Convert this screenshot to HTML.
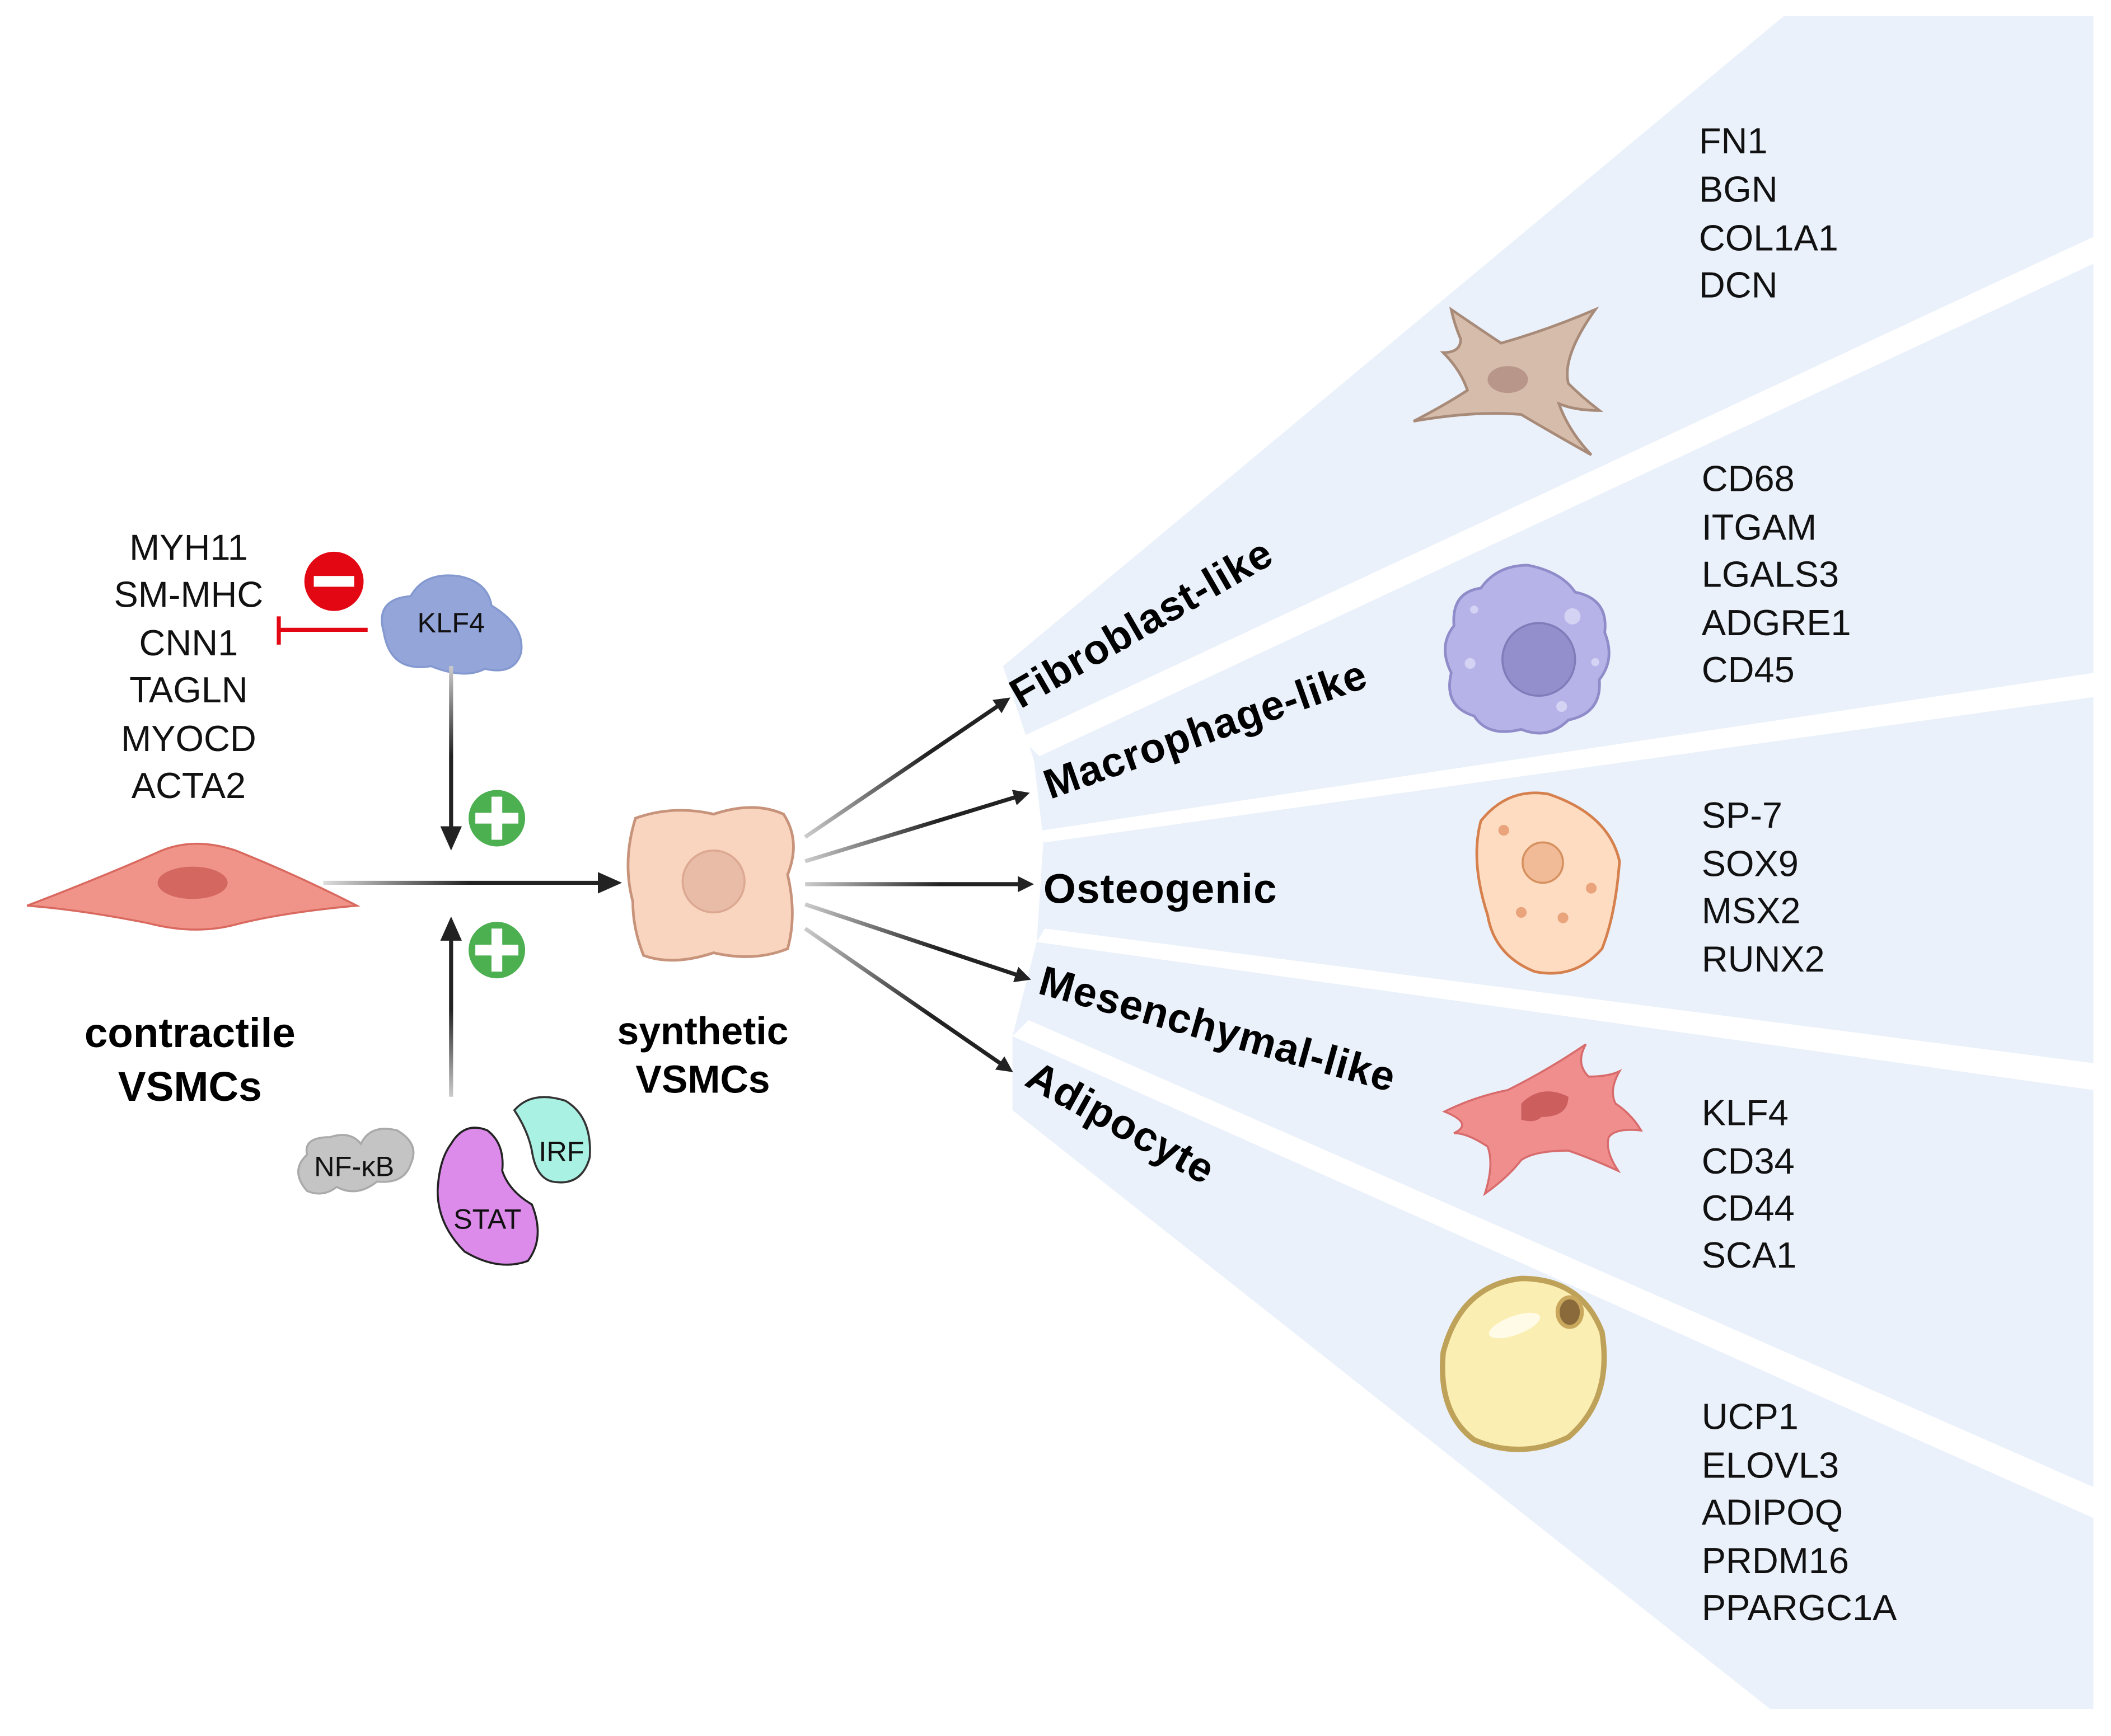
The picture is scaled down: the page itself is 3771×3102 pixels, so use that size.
<!DOCTYPE html>
<html><head><meta charset="utf-8"><style>
html,body{margin:0;padding:0;background:#fff}
svg{display:block}
text{font-family:"Liberation Sans",sans-serif}
.g{font-size:27px;fill:#111}
.b{font-weight:bold;fill:#000}
</style></head><body>
<svg width="3771" height="3102" viewBox="0 0 1568 1290" xmlns="http://www.w3.org/2000/svg">
<defs>
<linearGradient id="g1" gradientUnits="userSpaceOnUse" x1="598" y1="622" x2="748" y2="520"><stop offset="0" stop-color="#ccc"/><stop offset="0.6" stop-color="#222"/></linearGradient>
<linearGradient id="g2" gradientUnits="userSpaceOnUse" x1="598" y1="640" x2="762" y2="590"><stop offset="0" stop-color="#ccc"/><stop offset="0.6" stop-color="#222"/></linearGradient>
<linearGradient id="g3" gradientUnits="userSpaceOnUse" x1="598" y1="657" x2="765" y2="657"><stop offset="0" stop-color="#ccc"/><stop offset="0.6" stop-color="#222"/></linearGradient>
<linearGradient id="g4" gradientUnits="userSpaceOnUse" x1="598" y1="672" x2="763" y2="727"><stop offset="0" stop-color="#ccc"/><stop offset="0.6" stop-color="#222"/></linearGradient>
<linearGradient id="g5" gradientUnits="userSpaceOnUse" x1="598" y1="690" x2="750" y2="795"><stop offset="0" stop-color="#ccc"/><stop offset="0.6" stop-color="#222"/></linearGradient>
<linearGradient id="gh" gradientUnits="userSpaceOnUse" x1="240" y1="656" x2="458" y2="656"><stop offset="0" stop-color="#ddd"/><stop offset="0.5" stop-color="#222"/></linearGradient>
<linearGradient id="gd" gradientUnits="userSpaceOnUse" x1="335" y1="495" x2="335" y2="628"><stop offset="0" stop-color="#ccc"/><stop offset="0.5" stop-color="#222"/></linearGradient>
<linearGradient id="gu" gradientUnits="userSpaceOnUse" x1="335" y1="815" x2="335" y2="685"><stop offset="0" stop-color="#ccc"/><stop offset="0.5" stop-color="#222"/></linearGradient>
<marker id="ah" markerWidth="12" markerHeight="12" refX="9" refY="6" orient="auto" markerUnits="userSpaceOnUse" viewBox="0 0 12 12"><path d="M0,0 L12,6 L0,12z" fill="#222"/></marker>
<marker id="ahb" markerWidth="18" markerHeight="18" refX="14" refY="9" orient="auto" markerUnits="userSpaceOnUse" viewBox="0 0 18 18"><path d="M0,1 L18,9 L0,17z" fill="#222"/></marker>
</defs>
<!-- fan -->
<polygon points="745,495 1325,12 1555,12 1555,1270 1315,1270 752,825 752,770 770,700 775,625 768,565" fill="#eaf1fb"/>
<polygon points="758,548 1555,176 1555,196 772,562" fill="#fff"/>
<polygon points="768,618 1555,500 1555,518 776,626" fill="#fff"/>
<polygon points="776,690 1555,790 1555,810 770,700" fill="#fff"/>
<polygon points="764,758 1555,1105 1555,1128 752,770" fill="#fff"/>
<!-- branch arrows -->
<g stroke-width="3" fill="none" marker-end="url(#ah)">
<line x1="598" y1="622" x2="748" y2="520" stroke="url(#g1)"/>
<line x1="598" y1="640" x2="762" y2="590" stroke="url(#g2)"/>
<line x1="598" y1="657" x2="765" y2="657" stroke="url(#g3)"/>
<line x1="598" y1="672" x2="763" y2="727" stroke="url(#g4)"/>
<line x1="598" y1="690" x2="750" y2="795" stroke="url(#g5)"/>
</g>
<!-- rotated labels -->
<text class="b" font-size="31" letter-spacing="0.5" transform="translate(758,527) rotate(-30)">Fibroblast-like</text>
<text class="b" font-size="31" letter-spacing="0.5" transform="translate(780,594) rotate(-19.5)">Macrophage-like</text>
<text class="b" font-size="31" letter-spacing="0.5" x="775" y="671">Osteogenic</text>
<text class="b" font-size="31" letter-spacing="0.5" transform="translate(770,738) rotate(15.6)">Mesenchymal-like</text>
<text class="b" font-size="31" letter-spacing="0.5" transform="translate(760,806) rotate(29)">Adipocyte</text>
<!-- gene lists -->
<g class="g">
<text x="1262" y="114">FN1</text><text x="1262" y="150">BGN</text><text x="1262" y="186">COL1A1</text><text x="1262" y="221">DCN</text>
<text x="1264" y="365">CD68</text><text x="1264" y="401">ITGAM</text><text x="1264" y="436">LGALS3</text><text x="1264" y="472">ADGRE1</text><text x="1264" y="507">CD45</text>
<text x="1264" y="615">SP-7</text><text x="1264" y="651">SOX9</text><text x="1264" y="686">MSX2</text><text x="1264" y="722">RUNX2</text>
<text x="1264" y="836">KLF4</text><text x="1264" y="872">CD34</text><text x="1264" y="907">CD44</text><text x="1264" y="942">SCA1</text>
<text x="1264" y="1062">UCP1</text><text x="1264" y="1098">ELOVL3</text><text x="1264" y="1133">ADIPOQ</text><text x="1264" y="1169">PRDM16</text><text x="1264" y="1204">PPARGC1A</text>
</g>
<g class="g" text-anchor="middle">
<text x="140" y="416">MYH11</text><text x="140" y="451">SM-MHC</text><text x="140" y="487">CNN1</text><text x="140" y="522">TAGLN</text><text x="140" y="558">MYOCD</text><text x="140" y="593">ACTA2</text>
</g>
<!-- right cells -->
<path d="M1050,313 Q1075,300 1090,290 Q1085,275 1072,262 Q1085,262 1085,252 Q1080,240 1078,230 Q1100,245 1115,255 Q1150,245 1185,230 Q1160,265 1165,285 Q1175,295 1188,305 Q1170,305 1158,300 Q1165,320 1182,338 Q1150,320 1130,308 Q1095,305 1050,313z" fill="#d6bcab" stroke="#a88a78" stroke-width="2"/>
<ellipse cx="1120" cy="282" rx="15" ry="10" fill="#b8978a"/>
<path d="M1135,420 Q1160,425 1170,440 Q1195,445 1192,470 Q1200,490 1188,505 Q1190,530 1165,535 Q1150,550 1130,542 Q1105,548 1095,532 Q1072,525 1078,500 Q1068,480 1080,465 Q1078,440 1100,437 Q1112,420 1135,420z" fill="#b6b3e8" stroke="#8f8cc9" stroke-width="2"/>
<circle cx="1143" cy="490" r="27" fill="#928fcc" stroke="#7f7cba" stroke-width="1.5"/>
<g fill="#d4d3f3"><circle cx="1092" cy="493" r="4"/><circle cx="1168" cy="458" r="6"/><circle cx="1160" cy="525" r="4"/><circle cx="1095" cy="453" r="3"/><circle cx="1185" cy="492" r="3"/></g>
<path d="M1100,610 Q1120,585 1150,590 Q1195,605 1203,640 Q1200,680 1190,705 Q1170,728 1140,722 Q1110,710 1105,680 Q1092,640 1100,610z" fill="#fddcc2" stroke="#d6804e" stroke-width="2"/>
<circle cx="1146" cy="641" r="15" fill="#f2bb98" stroke="#d6915f" stroke-width="1.5"/>
<g fill="#eaa47c"><circle cx="1117" cy="617" r="4"/><circle cx="1182" cy="660" r="4"/><circle cx="1161" cy="682" r="4"/><circle cx="1130" cy="678" r="4"/></g>
<path d="M1073,826 Q1095,815 1120,810 Q1150,795 1178,776 Q1170,790 1180,800 Q1195,800 1203,796 Q1195,810 1200,820 Q1212,828 1219,840 Q1200,838 1195,845 Q1192,855 1202,870 Q1180,860 1165,855 Q1140,855 1130,862 Q1120,875 1103,887 Q1110,865 1105,852 Q1090,842 1080,842 Q1095,835 1073,826z" fill="#f08e8e" stroke="#d86b6b" stroke-width="1.5"/>
<path d="M1130,820 Q1145,805 1165,815 Q1165,830 1145,830 Q1140,835 1130,832z" fill="#cc5e5e"/>
<path d="M1130,950 Q1175,950 1190,990 Q1198,1040 1165,1068 Q1130,1085 1095,1070 Q1068,1050 1072,1005 Q1085,955 1130,950z" fill="#fbeeb2" stroke="#bfa25a" stroke-width="4"/>
<ellipse cx="1166" cy="975" rx="9" ry="11" fill="#8a6a3a" stroke="#c9a85e" stroke-width="3"/>
<ellipse cx="1125" cy="985" rx="20" ry="7" fill="#fffbe6" transform="rotate(-20 1125 985)"/>
<!-- left side -->
<circle cx="248" cy="432" r="22" fill="#e30613"/><rect x="233" y="428" width="30" height="8" fill="#fff"/>
<line x1="273" y1="468" x2="207" y2="468" stroke="#e30613" stroke-width="3"/><line x1="207" y1="458" x2="207" y2="479" stroke="#e30613" stroke-width="3"/>
<path d="M285,470 Q278,445 305,443 Q315,425 340,428 Q362,432 365,450 Q390,465 387,485 Q382,502 360,497 Q345,505 320,495 Q290,500 285,470z" fill="#94a5da" stroke="#8499d0" stroke-width="1.5"/>
<text x="335" y="470" font-size="21" text-anchor="middle" fill="#111">KLF4</text>
<line x1="335" y1="495" x2="335" y2="628" stroke="url(#gd)" stroke-width="3" marker-end="url(#ahb)"/>
<line x1="335" y1="815" x2="335" y2="685" stroke="url(#gu)" stroke-width="3" marker-end="url(#ahb)"/>
<g fill="#4caf50"><circle cx="369" cy="608" r="21"/><circle cx="369" cy="706" r="21"/></g>
<g fill="#fff"><rect x="365" y="592" width="8" height="32"/><rect x="353" y="604" width="32" height="8"/><rect x="365" y="690" width="8" height="32"/><rect x="353" y="702" width="32" height="8"/></g>
<path d="M20,673 Q80,650 120,632 Q145,622 175,632 Q220,650 265,673 Q210,678 175,687 Q145,695 110,686 Q60,676 20,673z" fill="#f0948a" stroke="#d9695f" stroke-width="1.5"/>
<ellipse cx="143" cy="656" rx="26" ry="12" fill="#d4675f"/>
<line x1="240" y1="656" x2="458" y2="656" stroke="url(#gh)" stroke-width="3" marker-end="url(#ahb)"/>
<path d="M472,608 Q500,598 530,605 Q560,595 582,605 Q595,625 585,650 Q592,680 585,705 Q560,715 530,708 Q500,718 478,710 Q470,690 470,670 Q462,640 472,608z" fill="#f9d5c0" stroke="#c7937b" stroke-width="2"/>
<circle cx="530" cy="655" r="23" fill="#e9bca7" stroke="#dca892" stroke-width="1.5"/>
<g class="b" text-anchor="middle"><text x="141" y="778" font-size="31">contractile</text><text x="141" y="818" font-size="31">VSMCs</text>
<text x="522" y="776" font-size="29">synthetic</text><text x="522" y="812" font-size="29">VSMCs</text></g>
<path d="M228,858 Q225,845 245,845 Q260,840 268,850 Q275,835 295,840 Q312,850 305,865 Q300,880 280,878 Q265,890 250,882 Q240,890 228,885 Q215,870 228,858z" fill="#c4c4c4" stroke="#aaa" stroke-width="1.5"/>
<text x="263" y="874" font-size="21" text-anchor="middle" fill="#111">NF-κB</text>
<path d="M382,825 Q395,810 420,818 Q440,830 438,860 Q432,882 410,878 Q398,875 395,855 Q392,840 382,825z" fill="#a9f1e2" stroke="#333" stroke-width="1.5"/>
<text x="417" y="863" font-size="21" text-anchor="middle" fill="#111">IRF</text>
<path d="M335,850 Q345,833 362,840 Q375,850 373,870 Q378,885 395,895 Q405,920 392,937 Q370,945 345,930 Q325,910 325,885 Q326,862 335,850z" fill="#dc8bea" stroke="#222" stroke-width="1.5"/>
<text x="362" y="913" font-size="21" text-anchor="middle" fill="#111">STAT</text>
</svg>
</body></html>
